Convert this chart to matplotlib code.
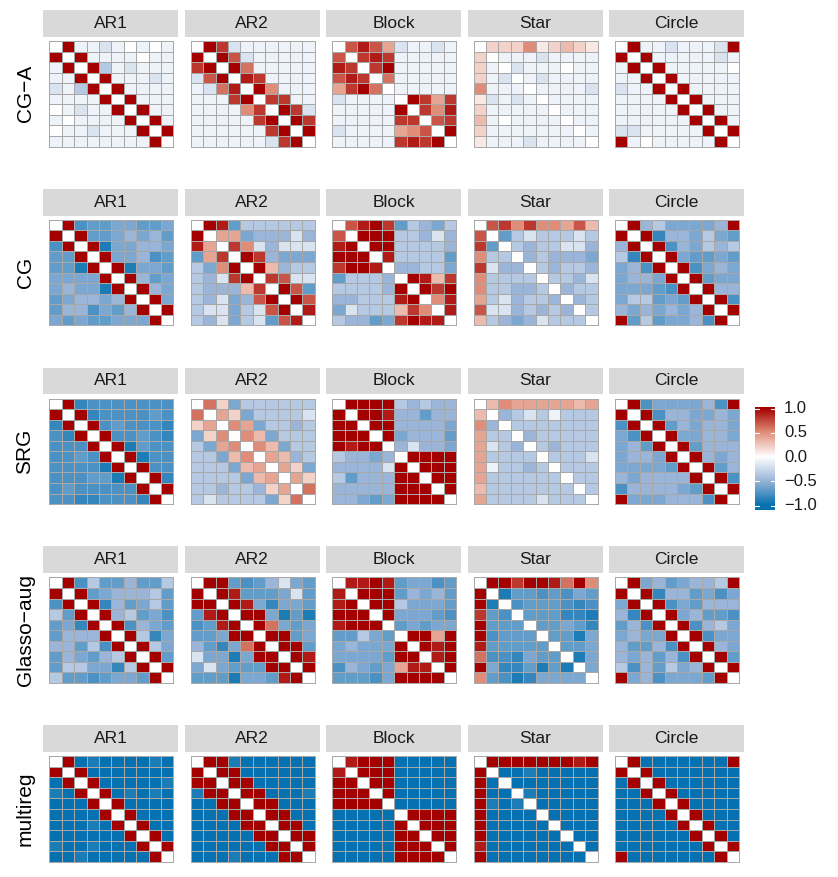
import numpy as np
import matplotlib
matplotlib.use("Agg")
import matplotlib.pyplot as plt
from matplotlib.colors import LinearSegmentedColormap

plt.rcParams['font.family'] = ['Liberation Sans', 'DejaVu Sans']

METHODS = ["CG−A", "CG", "SRG", "Glasso−aug", "multireg"]
STRUCTURES = ["AR1", "AR2", "Block", "Star", "Circle"]
LEGEND_TICKS = [1.0, 0.5, 0.0, -0.5, -1.0]
LEGEND_LABELS = ["1.0", "0.5", "0.0", "−0.5", "−1.0"]

# cell codes: digit d = +0.d, X = +1, a..j = pale .. full blue
CODE = {'0': 0.0, '1': 0.1, '2': 0.2, '3': 0.3, '4': 0.4, '5': 0.5,
        '6': 0.6, '7': 0.7, '8': 0.8, '9': 0.9, 'X': 1.0,
        'a': -0.08, 'b': -0.18, 'c': -0.36, 'd': -0.5, 'e': -0.6,
        'f': -0.68, 'g': -0.76, 'h': -0.84, 'i': -0.92, 'j': -1.0}

# upper triangle of each symmetric 10x10 matrix, one string per row
# (only the cells right of the diagonal, the diagonal itself is 0)
CGA_AR1 = ["Xaaba0a0a", "Xaaaa0aa", "Xcabaaa", "Xaaaba", "Xaaaa", "Xaaa", "Xaa", "Xa", "X"]
CGA_AR2 = ["X8baaaaaa", "X7baaaaa", "X6aaaaa", "98aaaa", "X5aaa", "88aa", "X8b", "X8", "X"]
CGA_BLOCK = ["7974baaba", "898aaaaa", "8Xaaaaa", "6aaaaa", "aaaaa", "X848", "859", "78", "X"]
CGA_STAR = ["222512321", "aaabaaaa", "baaa0aa", "abaaaa", "aaaab", "aaaa", "aaa", "aa", "a"]
CGA_CIRCLE = ["XaabaaabX", "Xaaaaaba", "Xaaaaa0", "Xaaaaa", "Xaaaa", "Xaaa", "Xaa", "Xa", "X"]

CG_AR1 = ["Xgffeeffe", "Xffededf", "Xieedde", "Xeedgf", "Xieef", "Xdfe", "Xde", "Xe", "X"]
CG_AR2 = ["X9fcccccc", "44edddbd", "85bdbbb", "X8deee", "X3dcc", "87bb", "X7f", "X7", "9"]
CG_BLOCK = ["79X8fcdec", "XXXccdbd", "XXccccd", "9ccccf", "ddcce", "X938", "X8X", "59", "9"]
CG_STAR = ["785855473", "fcbcccbc", "cdccbbd", "dcddde", "cdccd", "ccdb", "dcc", "dc", "c"]
CG_CIRCLE = ["XdceeeedX", "Xhddecef", "Xgdecdc", "Xeffef", "Xgede", "Xfee", "Xdd", "Xg", "X"]

SRG_AR1 = ["Xhggggggg", "Xhggggfg", "Xgfgggh", "Xggfgh", "Xifgg", "Xigg", "Xgg", "Xh", "X"]
SRG_AR2 = ["62ecccccc", "42eccccb", "54eccdc", "53eccc", "53ecc", "43dc", "42e", "42", "6"]
SRG_BLOCK = ["XXXXcdcdd", "XX9ddfdd", "XXdddde", "Xedddf", "dbdde", "XXXX", "XXX", "XX", "X"]
SRG_STAR = ["354444434", "dcbcaccc", "ccccccc", "dccccc", "cdccc", "cccb", "ccc", "cc", "c"]
SRG_CIRCLE = ["XgeeeedgX", "Xgddeede", "Xfdedde", "Xeedde", "Xfddd", "Xded", "Xfd", "Xg", "X"]

GL_AR1 = ["Xgcffdffc", "Xfedddcf", "Xhdfecf", "Xdcfeg", "Xgdef", "Xche", "Xce", "Xf", "X"]
GL_AR2 = ["XXfgfdbef", "X9fffebf", "X9eheef", "XXeifi", "X6efe", "XXfe", "XXf", "X9", "X"]
GL_BLOCK = ["99X9feegf", "XXXfdedf", "XXceeef", "Xeeefg", "fefee", "XX4X", "X9X", "9X", "X"]
GL_STAR = ["XX8XX96X5", "iffgfgef", "gfffghg", "fffhhi", "ffefh", "ffie", "ffe", "ie", "e"]
GL_CIRCLE = ["XedfeddcX", "Xhddfege", "Xgefddd", "Xedffg", "Xgdce", "Xgee", "Xde", "Xf", "X"]

MR_AR1 = ["Xjijjjjij", "Xjjjjjjj", "Xjjjjji", "Xjijij", "Xjjjj", "Xjjj", "Xjj", "Xj", "X"]
MR_AR2 = ["XXijjjjjj", "XXjjjjjj", "XXjjjjj", "XXjjji", "XXjjj", "XXjj", "XXj", "XX", "X"]
MR_BLOCK = ["9XXXjjjjj", "XXXjjjjj", "XXjjjjj", "Xjjjjj", "jjjjj", "XXXX", "XXX", "XX", "X"]
MR_STAR = ["XXXXXXX9X", "jjijjjjj", "jjjjjjj", "ijjjjj", "jjjjj", "jjjj", "jjj", "jj", "j"]
MR_CIRCLE = ["XjjjjjjjX", "Xjjjjjjj", "Xjjjjjj", "Xjjjjj", "Xjjjj", "Xjjj", "Xjj", "Xj", "X"]

GRID = [
    [CGA_AR1, CGA_AR2, CGA_BLOCK, CGA_STAR, CGA_CIRCLE],
    [CG_AR1, CG_AR2, CG_BLOCK, CG_STAR, CG_CIRCLE],
    [SRG_AR1, SRG_AR2, SRG_BLOCK, SRG_STAR, SRG_CIRCLE],
    [GL_AR1, GL_AR2, GL_BLOCK, GL_STAR, GL_CIRCLE],
    [MR_AR1, MR_AR2, MR_BLOCK, MR_STAR, MR_CIRCLE],
]


def build(rows):
    """Turn the upper-triangle strings into a full symmetric matrix."""
    n = len(rows) + 1
    m = np.zeros((n, n))
    for i, row in enumerate(rows):
        for k, ch in enumerate(row):
            j = i + 1 + k
            m[i, j] = m[j, i] = CODE[ch]
    return m


# gradient2 style scale: blue - white - dark red
cmap = LinearSegmentedColormap.from_list(
    "cor", [(0.0, "#0571B0"), (0.25, "#9AB5D8"), (0.5, "#FFFFFF"),
            (0.75, "#E08E79"), (1.0, "#A50000")])

W, H = 838, 877
fig = plt.figure(figsize=(W / 100, H / 100), dpi=100)


def px_axes(x, y, w, h):
    return fig.add_axes([x / W, 1 - (y + h) / H, w / W, h / H])


LINE = "#A8A8A8"
HM_W, HM_H = 124, 105.5

for r, method in enumerate(METHODS):
    y0 = 41 + r * 178.8
    for c, struct in enumerate(STRUCTURES):
        x0 = 49.3 + c * 141.4
        m = build(GRID[r][c])

        ax = px_axes(x0, y0, HM_W, HM_H)
        ax.pcolormesh(m, cmap=cmap, vmin=-1, vmax=1, edgecolors=LINE, linewidth=0.6)
        ax.set_xlim(0, 10)
        ax.set_ylim(10, 0)
        ax.set_xticks([])
        ax.set_yticks([])
        for s in ax.spines.values():
            s.set_color(LINE)
            s.set_linewidth(0.7)

        sx = px_axes(x0 - 6, y0 - 31, 135, 26.7)
        sx.set_facecolor("#D9D9D9")
        sx.set_xticks([])
        sx.set_yticks([])
        for s in sx.spines.values():
            s.set_visible(False)
        sx.text(0.5, 0.5, struct, ha="center", va="center", fontsize=12.5,
                color="#1A1A1A", transform=sx.transAxes)

    fig.text(25 / W, 1 - (y0 + HM_H / 2) / H, method, rotation=90,
             ha="center", va="center", fontsize=15, color="black")

# colour bar: value 1 at y=408.5 px, -1 at y=505.5 px
top_px, bot_px = 407, 510
v_top = 1 + (408.5 - top_px) / 48.5
v_bot = -1 - (bot_px - 505.5) / 48.5
cax = px_axes(755, top_px, 20, bot_px - top_px)
grad = np.linspace(-1, 1, 256).reshape(-1, 1)
cax.imshow(grad, aspect="auto", cmap=cmap, vmin=-1, vmax=1, origin="lower",
           extent=[0, 1, -1, 1])
cax.imshow(np.array([[1.0]]), aspect="auto", cmap=cmap, vmin=-1, vmax=1,
           extent=[0, 1, 1, v_top])
cax.imshow(np.array([[-1.0]]), aspect="auto", cmap=cmap, vmin=-1, vmax=1,
           extent=[0, 1, v_bot, -1])
cax.set_xlim(0, 1)
cax.set_ylim(v_bot, v_top)
for v in LEGEND_TICKS:
    cax.plot([0, 0.2], [v, v], color="white", lw=0.8)
    cax.plot([0.8, 1], [v, v], color="white", lw=0.8)
cax.set_xticks([])
cax.set_yticks([])
for s in cax.spines.values():
    s.set_visible(False)

for v, lab in zip(LEGEND_TICKS, LEGEND_LABELS):
    ypx = 408.5 + (1 - v) * 48.5
    fig.text(784 / W, 1 - ypx / H, lab, ha="left", va="center",
             fontsize=12, color="#1A1A1A")

fig.savefig("out.png", dpi=100)
